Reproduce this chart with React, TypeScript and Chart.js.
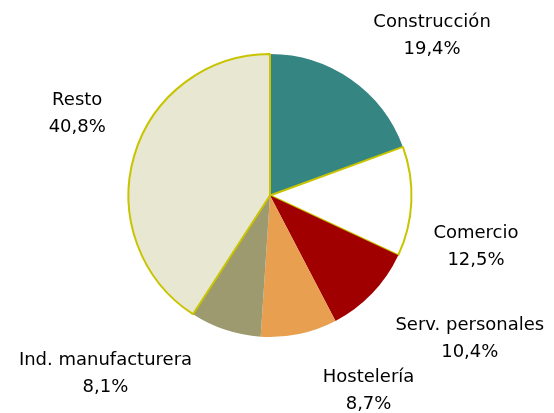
import React, { useEffect, useRef } from "react";
import { Chart, registerables } from "chart.js";

Chart.register(...registerables);

const categories = ["Construcción", "Comercio", "Serv. personales", "Hostelería", "Ind. manufacturera", "Resto"];
const shares = [19.4, 12.5, 10.4, 8.7, 8.1, 40.8];
const shareLabels = ["19,4%", "12,5%", "10,4%", "8,7%", "8,1%", "40,8%"];

const sliceColors = ["#358583", "#FFFFFF", "#A00000", "#E8A050", "#9C9A6E", "#E8E8D2"];
const sliceBorders = [0, 2, 0, 0, 0, 2];
// label block centre offset from the arc's outer mid point
const labelOffsets = [
  [81, -44],
  [64.6, 45.2],
  [97.5, 46],
  [69.4, 57.1],
  [-119.9, 44.1],
  [-57.1, -41.5],
];

const labelPlugin = {
  id: "pieLabels",
  afterDatasetsDraw(chart: any) {
    const ctx = chart.ctx;
    const meta = chart.getDatasetMeta(0);
    ctx.save();
    ctx.font = '18px "DejaVu Sans"';
    ctx.fillStyle = "#000000";
    ctx.textAlign = "center";
    ctx.textBaseline = "middle";
    meta.data.forEach((arc: any, i: number) => {
      const { x, y, startAngle, endAngle, outerRadius } = arc.getProps(["x", "y", "startAngle", "endAngle", "outerRadius"], true);
      const mid = (startAngle + endAngle) / 2;
      const ax = x + outerRadius * Math.cos(mid) + labelOffsets[i][0];
      const ay = y + outerRadius * Math.sin(mid) + labelOffsets[i][1];
      ctx.fillText(categories[i], ax, ay - 13.5);
      ctx.fillText(shareLabels[i], ax, ay + 13.5);
    });
    ctx.restore();
  },
};

export default function App() {
  const ref = useRef<HTMLCanvasElement | null>(null);
  useEffect(() => {
    if (!ref.current) return;
    const chart = new Chart(ref.current, {
      type: "pie",
      data: {
        labels: categories,
        datasets: [
          {
            data: shares,
            backgroundColor: sliceColors,
            borderColor: "#C8C400",
            borderWidth: sliceBorders,
          },
        ],
      },
      options: {
        responsive: false,
        animation: false,
        radius: 141.5,
        layout: { padding: { left: 120, right: 134, top: 45.5, bottom: 67.5 } },
        plugins: {
          legend: { display: false },
          tooltip: { enabled: false },
        },
      } as any,
      plugins: [labelPlugin],
    });
    return () => chart.destroy();
  }, []);
  return (
    <div style={{ position: "fixed", left: 0, top: 0, width: 554, height: 413, background: "#fff" }}>
      <canvas ref={ref} width={554} height={413} style={{ width: 554, height: 413 }} />
    </div>
  );
}
